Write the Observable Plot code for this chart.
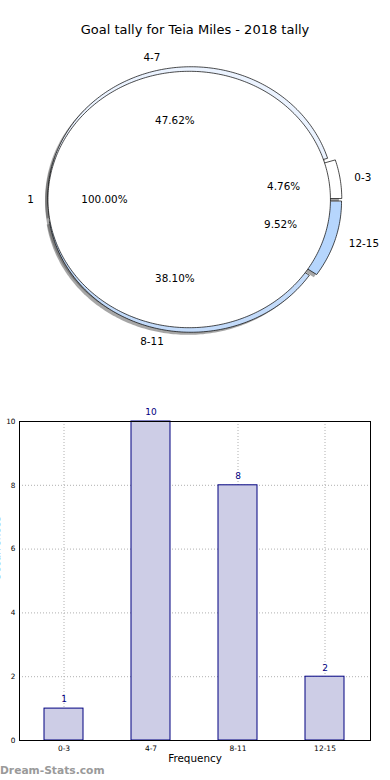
<!DOCTYPE html>
<html><head><meta charset="utf-8">
<script src="https://cdn.jsdelivr.net/npm/d3@7"></script>
<script src="https://cdn.jsdelivr.net/npm/@observablehq/plot@0.6"></script>
<style>
html,body{margin:0;padding:0;background:#fff;}
body{width:390px;height:780px;overflow:hidden;position:relative;font-family:"DejaVu Sans",sans-serif;}
#pie{position:absolute;left:0;top:0;}
#bar{position:absolute;left:0;top:400px;}
#title{position:absolute;top:22px;left:0;width:390px;text-align:center;font-size:13px;color:#000;line-height:16px;}
#wm{position:absolute;left:0;top:764px;font-size:10.7px;font-weight:bold;color:#9a9a9a;line-height:14px;}
svg{background:transparent !important;}
</style></head><body>
<div id="pie"></div>
<div id="bar"></div>
<div id="title">Goal tally for Teia Miles - 2018 tally</div>
<div id="wm">Dream-Stats.com</div>
<script>
// ---- data ----
const categories = ["0-3", "4-7", "8-11", "12-15"];
const counts = [1, 10, 8, 2];
const sliceColors = ["#ffffff", "#ebf3ff", "#c3dbfa", "#b6d6fd"];
const explode = [0.05, 0.0233, 0.0233, 0.05];
const innerLabels = ["1"];
const innerValues = [1];
const innerColors = ["#ffffff"];
const innerExplode = [0.0175];
const innerRadius = 0.9877;
const yTicks = [0, 2, 4, 6, 8, 10];
const title = "Goal tally for Teia Miles - 2018 tally";
const xLabel = "Frequency";
const yLabel = "Occurrences";

// ---- pie geometry from values ----
const total = d3.sum(counts);
const cum = [0, ...d3.cumsum(counts)];
const slices = categories.map((c, i) => {
  const a0 = 2 * Math.PI * cum[i] / total;
  const a1 = 2 * Math.PI * cum[i + 1] / total;
  const mid = (a0 + a1) / 2;
  const cx = explode[i] * Math.cos(mid), cy = explode[i] * Math.sin(mid);
  return {cat: c, i, a0, a1, mid, cx, cy, pct: counts[i] / total * 100};
});
function wedgePoints(s, r, ox, oy) {
  const n = Math.max(4, Math.ceil((s.a1 - s.a0) / (Math.PI / 180)));
  const pts = [{x: s.cx + ox, y: s.cy + oy}];
  for (let k = 0; k <= n; k++) {
    const a = s.a0 + (s.a1 - s.a0) * k / n;
    pts.push({x: s.cx + ox + r * Math.cos(a), y: s.cy + oy + r * Math.sin(a)});
  }
  return pts;
}
function circlePoints(r, ox, oy) {
  return d3.range(0, 360, 1).map(d => ({x: ox + r * Math.cos(d * Math.PI / 180), y: oy + r * Math.sin(d * Math.PI / 180)}));
}
const innerTotal = d3.sum(innerValues);
const innerMid = Math.PI; // single slice, starts at 0 => middle at 180 deg
const icx = innerExplode[0] * Math.cos(innerMid), icy = innerExplode[0] * Math.sin(innerMid);
const innerPctValue = innerValues[0] / innerTotal * 100;

const sh = -0.02;
const shadowMarks = slices.map(s => Plot.line(wedgePoints(s, 1, sh, sh), {x: "x", y: "y", curve: "linear-closed", fill: "#4d4d4d", fillOpacity: 0.5, stroke: "none"}));
shadowMarks.push(Plot.line(circlePoints(innerRadius, icx + sh, icy + sh), {x: "x", y: "y", curve: "linear-closed", fill: "#4d4d4d", fillOpacity: 0.5, stroke: "none"}));
const wedgeMarks = slices.map(s => Plot.line(wedgePoints(s, 1, 0, 0), {x: "x", y: "y", curve: "linear-closed", fill: sliceColors[s.i], stroke: "#000", strokeWidth: 0.7}));
const innerMark = Plot.line(circlePoints(innerRadius, icx, icy), {x: "x", y: "y", curve: "linear-closed", fill: innerColors[0], stroke: "#000", strokeWidth: 0.7});

const catLabels = slices.map(s => {
  const x = s.cx + 1.1 * Math.cos(s.mid), y = s.cy + 1.1 * Math.sin(s.mid);
  return {x, y, text: s.cat, anchor: Math.abs(x) < 0.4 ? "middle" : (x > 0 ? "start" : "end")};
});
const pctLabels = slices.map(s => ({x: s.cx + 0.6 * Math.cos(s.mid), y: s.cy + 0.6 * Math.sin(s.mid), text: s.pct.toFixed(2) + "%", vert: Math.abs(Math.cos(s.mid)) < 0.5}));
const innerCat = [{x: icx + 1.1 * innerRadius * Math.cos(innerMid), y: icy + 1.1 * innerRadius * Math.sin(innerMid), text: innerLabels[0]}];
const innerPct = [{x: icx + 0.6 * innerRadius * Math.cos(innerMid), y: icy + 0.6 * innerRadius * Math.sin(innerMid), text: innerPctValue.toFixed(2) + "%"}];

const fs = 10.4;
const pie = Plot.plot({
  width: 390, height: 360, margin: 0,
  style: {fontFamily: "DejaVu Sans", background: "transparent", overflow: "visible"},
  x: {domain: [-191.2 / 143, 198.8 / 143], axis: null},
  y: {domain: [-161 / 129.8, 199 / 129.8], axis: null},
  marks: [
    ...shadowMarks,
    ...wedgeMarks,
    innerMark,
    Plot.text(catLabels.filter(d => d.anchor === "start"), {x: "x", y: "y", text: "text", textAnchor: "start", fontSize: fs, fill: "#000"}),
    Plot.text(catLabels.filter(d => d.anchor === "end"), {x: "x", y: "y", text: "text", textAnchor: "end", fontSize: fs, fill: "#000"}),
    Plot.text(catLabels.filter(d => d.anchor === "middle"), {x: "x", y: "y", text: "text", textAnchor: "middle", fontSize: fs, fill: "#000", dx: -4}),
    Plot.text(pctLabels.filter(d => !d.vert), {x: "x", y: "y", text: "text", fontSize: fs, fill: "#000"}),
    Plot.text(pctLabels.filter(d => d.vert), {x: "x", y: "y", text: "text", fontSize: fs, fill: "#000", dx: 3}),
    Plot.text(innerCat, {x: "x", y: "y", text: "text", textAnchor: "end", fontSize: fs, fill: "#000"}),
    Plot.text(innerPct, {x: "x", y: "y", text: "text", fontSize: fs, fill: "#000"})
  ]
});
document.getElementById("pie").appendChild(pie);

// ---- bar chart ----
const rows = categories.map((c, i) => ({cat: c, count: counts[i]}));
const navy = "#000080";
const bar = Plot.plot({
  width: 390, height: 380,
  marginLeft: 19, marginRight: 20, marginTop: 21, marginBottom: 40,
  style: {fontFamily: "DejaVu Sans", background: "transparent", overflow: "visible"},
  x: {domain: categories, paddingInner: 0.55, paddingOuter: 0.275, label: null},
  y: {domain: [0, 10], label: null},
  marks: [
    Plot.gridY(yTicks, {stroke: "#b0b0b0", strokeOpacity: 1, strokeDasharray: "1,2"}),
    Plot.gridX(categories, {stroke: "#b0b0b0", strokeOpacity: 1, strokeDasharray: "1,2"}),
    Plot.barY(rows, {x: "cat", y: "count", fill: "#cdcde6", stroke: navy, strokeWidth: 1}),
    Plot.text(rows, {x: "cat", y: "count", text: d => String(d.count), dy: -9, fill: navy, fontSize: 9}),
    Plot.axisX({tickSize: 0, tickPadding: 5, fontSize: 7.5, label: null}),
    Plot.axisY({ticks: yTicks, tickSize: 0, tickPadding: 4, fontSize: 7.3, label: null}),
    Plot.frame({stroke: "#000", strokeWidth: 1}),
    Plot.text([xLabel], {frameAnchor: "bottom", dy: 21, fontSize: fs, fill: "#000"}),
    Plot.text([yLabel], {frameAnchor: "left", dx: -23, rotate: -90, fontSize: fs, fill: "#000"})
  ]
});
document.getElementById("bar").appendChild(bar);
</script>
</body></html>
